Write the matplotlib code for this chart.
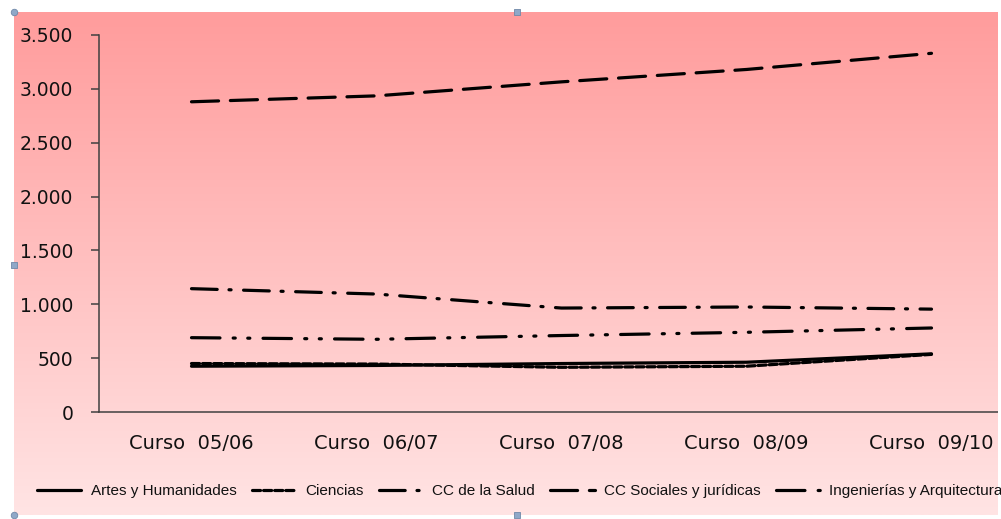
import numpy as np
import matplotlib
matplotlib.use("Agg")
import matplotlib.pyplot as plt
import matplotlib.ticker as ticker
from matplotlib.colors import LinearSegmentedColormap
from matplotlib.patches import Rectangle

# ── DATA ──────────────────────────────────────────────────────────────────────
cursos = ["Curso  05/06", "Curso  06/07", "Curso  07/08", "Curso  08/09", "Curso  09/10"]
artes       = [425, 432, 450, 462, 540]
ciencias    = [450, 445, 415, 425, 535]
salud       = [1145, 1095, 965, 975, 955]
sociales    = [2880, 2935, 3065, 3180, 3330]
ingenierias = [690, 675, 710, 740, 780]

series = [
    ("Artes y Humanidades",        artes),
    ("Ciencias",                   ciencias),
    ("CC de la Salud",             salud),
    ("CC Sociales y jurídicas",    sociales),
    ("Ingenierías y Arquitectura", ingenierias),
]

# dash patterns in points (not scaled by linewidth)
STYLES = {
    "Artes y Humanidades":        "-",
    "Ciencias":                   (0, (5.8, 2.2)),
    "CC de la Salud":             (0, (18.5, 8.5, 1.5, 9.0)),
    "CC Sociales y jurídicas":    (0, (19.5, 8.5)),
    "Ingenierías y Arquitectura": (0, (20.5, 9.5, 1.5, 9.0, 1.5, 9.5)),
}

plt.rcParams["lines.scale_dashes"] = False
plt.rcParams["font.family"] = ["DejaVu Sans"]

W, H = 1001, 519
fig = plt.figure(figsize=(W / 100, H / 100), dpi=100)
fig.patch.set_facecolor("white")

# ── BACKGROUND (pink gradient chart area) ────────────────────────────────────
x0, x1, y0, y1 = 14, 998, 12, 515
bg = fig.add_axes([x0 / W, 1 - y1 / H, (x1 - x0) / W, (y1 - y0) / H], zorder=0)
cmap = LinearSegmentedColormap.from_list("pink", ["#ff9c9c", "#ffe4e4"])
bg.imshow(np.linspace(0, 1, 256).reshape(-1, 1), aspect="auto", cmap=cmap,
          extent=[0, 1, 0, 1])
bg.set_axis_off()

# ── MAIN AXES ─────────────────────────────────────────────────────────────────
axl, axr, axt, axb = 99, 998, 35, 412
ax = fig.add_axes([axl / W, 1 - axb / H, (axr - axl) / W, (axb - axt) / H], zorder=1)
ax.patch.set_alpha(0)

x = np.arange(len(cursos))
for name, vals in series:
    ax.plot(x, vals, color="black", linewidth=2.3, linestyle=STYLES[name],
            label=name, solid_capstyle="round", dash_capstyle="round")

# categories are 185 px apart, chart is cut at the right edge
ax.set_xlim(-0.5, -0.5 + (axr - axl) / 185)
ax.set_ylim(0, 3500)
ax.set_xticks(x)
ax.set_xticklabels(cursos, fontsize=14, color="#111111")
ax.yaxis.set_major_locator(ticker.MultipleLocator(500))
ax.yaxis.set_major_formatter(
    ticker.FuncFormatter(lambda v, p: f"{int(v):,}".replace(",", ".")))
ax.tick_params(axis="y", labelsize=13.5, labelcolor="#111111", length=5.5,
               width=1.1, color="#404040", pad=13, direction="out")
ax.tick_params(axis="x", length=0, pad=16)

for s in ["top", "right"]:
    ax.spines[s].set_visible(False)
for s in ["left", "bottom"]:
    ax.spines[s].set_color("#404040")
    ax.spines[s].set_linewidth(1.1)

# ── LEGEND ────────────────────────────────────────────────────────────────────
leg = fig.legend(loc="center left", bbox_to_anchor=(31 / W, 1 - 491 / H),
                 ncol=5, frameon=False, handlelength=2.9, handletextpad=0.6,
                 columnspacing=1.0, borderaxespad=0,
                 prop={"family": "Liberation Sans", "size": 11})
for t in leg.get_texts():
    t.set_color("#111111")

# ── SELECTION HANDLES + RIGHT CUT ─────────────────────────────────────────────
hx = fig.add_axes([0, 0, 1, 1], zorder=3)
hx.set_xlim(0, W)
hx.set_ylim(H, 0)
hx.set_axis_off()
hx.add_patch(Rectangle((x1, 0), W - x1 + 2, H, color="white", linewidth=0))
hx.scatter([x0, x0], [y0, y1], s=22, marker="o", color="#8fa8c8",
           edgecolor="#6f88a8", linewidth=0.6)
hx.scatter([517, x0, 517], [y0, 265, y1], s=22, marker="s", color="#8fa8c8",
           edgecolor="#6f88a8", linewidth=0.6)

fig.savefig("out.png", dpi=100)
